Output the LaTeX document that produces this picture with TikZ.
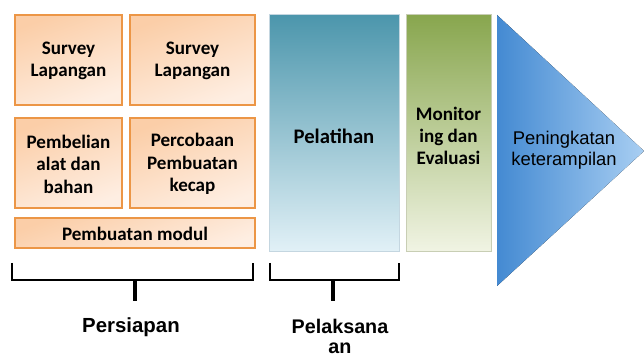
\documentclass[tikz,border=0pt]{standalone}
\usepackage{fontspec}
\setmainfont{Carlito}
\newfontfamily\arialfont{Liberation Sans}
\definecolor{prepTop}{RGB}{251,206,168}
\definecolor{prepBot}{RGB}{254,238,226}
\definecolor{prepLine}{RGB}{236,150,70}
\definecolor{trainTop}{RGB}{76,150,172}
\definecolor{trainBot}{RGB}{226,241,247}
\definecolor{monTop}{RGB}{136,166,78}
\definecolor{monBot}{RGB}{241,244,228}
\definecolor{goalLeft}{RGB}{68,138,210}
\definecolor{goalRight}{RGB}{168,206,242}
\begin{document}
\begin{tikzpicture}[x=0.75pt,y=0.75pt,yscale=-1,xscale=1,
  prepbox/.style={draw=prepLine,line width=0.9pt,top color=prepTop,bottom color=prepBot,shading angle=20},
  boxtext/.style={inner sep=0.75pt,align=center,font=\bfseries\fontsize{14.3}{16.8}\selectfont},
  bracket/.style={line width=1.5pt},
  phasetext/.style={inner sep=0.75pt,align=center,font=\arialfont\bfseries\fontsize{15.3}{15}\selectfont}]
\useasboundingbox (0,0) rectangle (644,356);

%Shape: Rectangle [survey 1]
\draw [prepbox] (15,15) rectangle (122,105) ;
%Shape: Rectangle [survey 2]
\draw [prepbox] (130,15) rectangle (255,105) ;
%Shape: Rectangle [pembelian]
\draw [prepbox] (15,118) rectangle (122,208) ;
%Shape: Rectangle [percobaan]
\draw [prepbox] (130,118) rectangle (255,208) ;
%Shape: Rectangle [modul]
\draw [prepbox] (15,218) rectangle (255,248) ;

%Shape: Rectangle [pelatihan]
\draw [draw={rgb,255:red,196;green,214;blue,224},line width=0.75pt,top color=trainTop,bottom color=trainBot] (269,15) rectangle (399,252) ;
%Shape: Rectangle [monitoring]
\draw [draw={rgb,255:red,200;green,206;blue,180},line width=0.75pt,top color=monTop,bottom color=monBot] (406,15) rectangle (491,252) ;
%Shape: Triangle [hasil]
\fill [left color=goalLeft,right color=goalRight] (497,15) -- (644,151) -- (497,286) -- cycle ;

% Text Node
\node [boxtext] (survey1) at (68.5,61) {Survey\\Lapangan};
% Text Node
\node [boxtext] (survey2) at (192.5,61) {Survey\\Lapangan};
% Text Node
\node [boxtext] (pembelian) at (68.5,164) {Pembelian\\alat dan\\bahan};
% Text Node
\node [boxtext] (percobaan) at (192.5,164) {Percobaan\\Pembuatan\\kecap};
% Text Node
\node [boxtext] (modul) at (135,234) {Pembuatan modul};
% Text Node
\node [boxtext,font=\bfseries\fontsize{15.5}{16}\selectfont] (pelatihan) at (334,136) {Pelatihan};
% Text Node
\node [boxtext,font=\bfseries\fontsize{14.3}{16.5}\selectfont] (monitoring) at (448.5,136) {Monitor\\ing dan\\Evaluasi};
% Text Node
\node [inner sep=0.75pt,align=center,font=\arialfont\fontsize{13.8}{16}\selectfont] (hasil) at (564,150) {Peningkatan\\keterampilan};

%Bracket [persiapan]
\draw [bracket] (12,263) -- (12,280) -- (253,280) -- (253,263) ;
\draw [line width=2.5pt] (135,280) -- (135,301) ;
%Bracket [pelaksanaan]
\draw [bracket] (270,263) -- (270,280) -- (399,280) -- (399,263) ;
\draw [line width=2.5pt] (333,280) -- (333,301) ;

% Text Node
\node [phasetext] (persiapan) at (131,327) {Persiapan};
% Text Node
\node [phasetext,font=\arialfont\bfseries\fontsize{14.8}{15}\selectfont] (pelaksanaan) at (340,336) {Pelaksana\\an};

\end{tikzpicture}
\end{document}
